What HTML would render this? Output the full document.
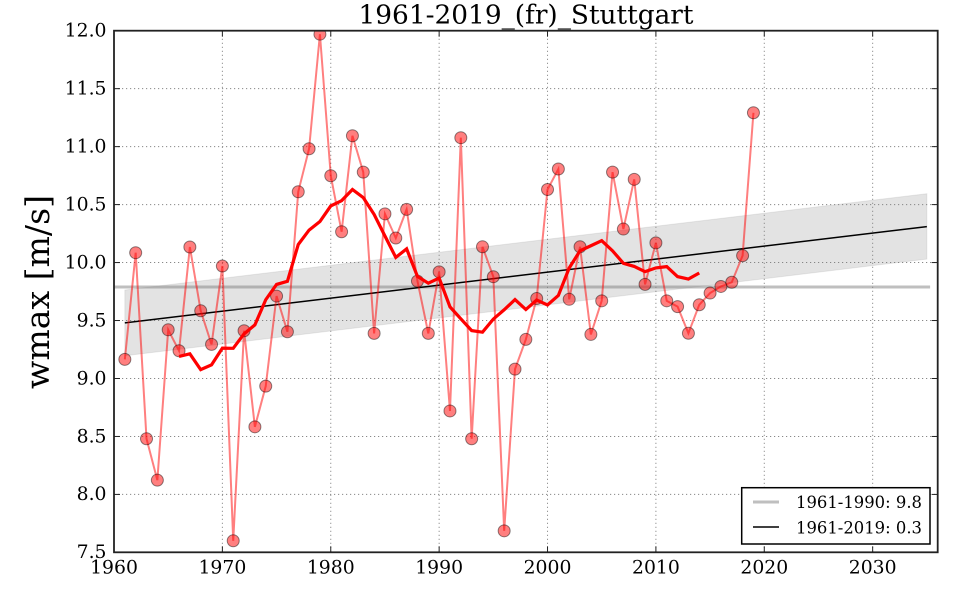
<!DOCTYPE html>
<html>
<head>
<meta charset="utf-8">
<style>
  html, body { margin: 0; padding: 0; background: #fff; }
  svg { display: block; }
  text { font-family: "DejaVu Serif", "Liberation Serif", serif; fill: #000; }
</style>
</head>
<body>
<svg id="chart" xmlns="http://www.w3.org/2000/svg" width="960" height="600" viewBox="0 0 960 600">
  <defs>
    <clipPath id="plotclip"><rect x="114" y="30.7" width="823.7" height="521.6"/></clipPath>
  </defs>
  <rect x="0" y="0" width="960" height="600" fill="#fff"/>
  <g id="grid"></g>
  <g id="band" clip-path="url(#plotclip)"></g>
  <g id="series" clip-path="url(#plotclip)"></g>
  <g id="axes"></g>
  <text x="526" y="23.5" text-anchor="middle" font-size="26" textLength="335" lengthAdjust="spacingAndGlyphs">1961-2019_(fr)_Stuttgart</text>
  <text transform="translate(49,292) rotate(-90)" text-anchor="middle" font-size="33" textLength="194" lengthAdjust="spacingAndGlyphs">wmax [m/s]</text>
  <g id="legend">
    <rect x="741.7" y="487.7" width="188.3" height="56.3" fill="#fff" stroke="#000" stroke-width="1.5"/>
    <line x1="753" y1="502" x2="779" y2="502" stroke="#808080" stroke-opacity="0.5" stroke-width="3"/>
    <line x1="753" y1="527" x2="779" y2="527" stroke="#000" stroke-width="1.5"/>
    <text x="796" y="508" font-size="16.5" textLength="126" lengthAdjust="spacingAndGlyphs">1961-1990: 9.8</text>
    <text x="796" y="533.3" font-size="16.5" textLength="126" lengthAdjust="spacingAndGlyphs">1961-2019: 0.3</text>
  </g>
</svg>
<script>
(function(){
  var NS = "http://www.w3.org/2000/svg";
  var L = 114, R = 937.7, T = 30.7, B = 552.3;
  function X(yr){ return L + (yr - 1960) * 10.838; }
  function Y(v){ return T + (12 - v) * 115.93; }
  function el(tag, attrs, parent){
    var e = document.createElementNS(NS, tag);
    for (var k in attrs) e.setAttribute(k, attrs[k]);
    parent.appendChild(e);
    return e;
  }
  var grid = document.getElementById("grid");
  var band = document.getElementById("band");
  var series = document.getElementById("series");
  var axes = document.getElementById("axes");

  for (var yr = 1970; yr <= 2030; yr += 10) {
    el("line", {x1:X(yr), y1:T, x2:X(yr), y2:B, stroke:"#888", "stroke-width":"1", "stroke-dasharray":"1.2,2.8"}, grid);
  }
  for (var v = 8.0; v <= 11.51; v += 0.5) {
    el("line", {x1:L, y1:Y(v), x2:R, y2:Y(v), stroke:"#888", "stroke-width":"1", "stroke-dasharray":"1.2,2.8"}, grid);
  }

  var pts = [[1961, 9.763],[2035, 10.594],[2035, 10.030],[1961, 9.196]];
  el("polygon", {points: pts.map(function(p){return X(p[0])+","+Y(p[1]);}).join(" "),
    fill:"#808080", "fill-opacity":"0.22", stroke:"#808080", "stroke-opacity":"0.15", "stroke-width":"1"}, band);

  el("line", {x1:L, y1:Y(9.789), x2:X(2035.3), y2:Y(9.789), stroke:"#808080", "stroke-opacity":"0.5", "stroke-width":"3"}, band);
  el("line", {x1:X(1961), y1:Y(9.48), x2:X(2035), y2:Y(10.31), stroke:"#000", "stroke-width":"1.5"}, band);

  var data = [9.165,10.085,8.48,8.123,9.42,9.239,10.134,9.584,9.294,9.97,
              7.60,9.412,8.583,8.934,9.711,9.403,10.611,10.982,11.97,10.749,
              10.266,11.094,10.78,9.389,10.42,10.212,10.459,9.84,9.389,9.92,
              8.72,11.077,8.48,10.136,9.878,7.686,9.081,9.337,9.69,10.63,
              10.807,9.683,10.136,9.38,9.67,10.78,10.289,10.718,9.812,10.17,
              9.67,9.62,9.39,9.636,9.737,9.794,9.83,10.06,11.292];
  var d = "";
  for (var i = 0; i < data.length; i++) {
    d += (i ? " L" : "M") + X(1961+i).toFixed(2) + "," + Y(data[i]).toFixed(2);
  }
  el("path", {d:d, fill:"none", stroke:"#f00", "stroke-opacity":"0.5", "stroke-width":"2"}, series);
  for (var i = 0; i < data.length; i++) {
    el("circle", {cx:X(1961+i), cy:Y(data[i]), r:"6", fill:"#f00", "fill-opacity":"0.5",
      stroke:"#000", "stroke-opacity":"0.45", "stroke-width":"1"}, series);
  }
  var rd = "";
  for (var i = 5; i < data.length - 5; i++) {
    var s = 0;
    for (var j = i-5; j <= i+5; j++) s += data[j];
    s /= 11;
    rd += (i > 5 ? " L" : "M") + X(1961+i).toFixed(2) + "," + Y(s).toFixed(2);
  }
  el("path", {d:rd, fill:"none", stroke:"#f00", "stroke-width":"3.2", "stroke-linejoin":"miter"}, series);

  el("rect", {x:L, y:T, width:R-L, height:B-T, fill:"none", stroke:"#222", "stroke-width":"1.8"}, axes);
  for (var yr = 1960; yr <= 2030; yr += 10) {
    var x = X(yr);
    el("line", {x1:x, y1:B, x2:x, y2:B-6, stroke:"#222", "stroke-width":"1"}, axes);
    el("line", {x1:x, y1:T, x2:x, y2:T+6, stroke:"#222", "stroke-width":"1"}, axes);
    var t = el("text", {x:x, y:573.3, "text-anchor":"middle", "font-size":"18.8"}, axes);
    t.textContent = String(yr);
  }
  for (var k = 0; k <= 9; k++) {
    var v = 7.5 + k*0.5;
    var y = Y(v);
    el("line", {x1:L, y1:y, x2:L+6, y2:y, stroke:"#222", "stroke-width":"1"}, axes);
    el("line", {x1:R, y1:y, x2:R-6, y2:y, stroke:"#222", "stroke-width":"1"}, axes);
    var t = el("text", {x:106.5, y:y+5.8, "text-anchor":"end", "font-size":"18.8"}, axes);
    t.textContent = v.toFixed(1);
  }
})();
</script>
</body>
</html>
